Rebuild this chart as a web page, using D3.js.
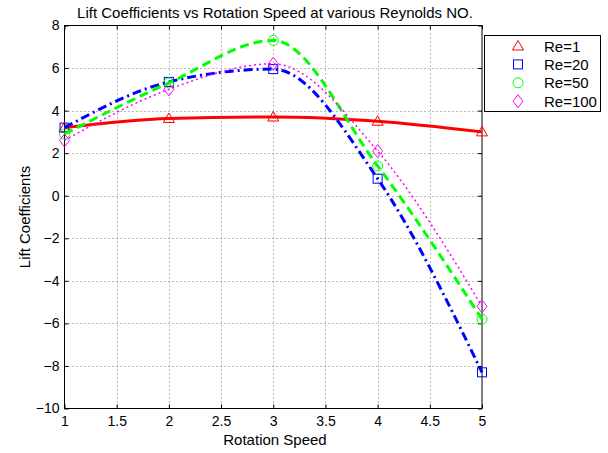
<!DOCTYPE html>
<html>
<head>
<meta charset="utf-8">
<script src="https://cdn.jsdelivr.net/npm/d3@7"></script>
<style>
  body { margin: 0; background: #fff; }
  svg { font-family: "Liberation Sans", Arial, sans-serif; }
</style>
</head>
<body>
<svg width="608" height="453"></svg>
<script>
"use strict";

// rotation speeds (x)
const speeds = [1, 2, 3, 4, 5];
// lift coefficients per Reynolds number
const re1   = [3.2, 3.63, 3.7, 3.5, 3.0];
const re20  = [3.2, 5.35, 5.95, 0.8, -8.3];
const re50  = [2.9, 5.3, 7.3, 1.4, -5.8];
const re100 = [2.6, 5.0, 6.2, 2.1, -5.2];
const seriesNames = ["Re=1", "Re=20", "Re=50", "Re=100"];
const xTicks = [1, 1.5, 2, 2.5, 3, 3.5, 4, 4.5, 5];
const yTicks = [-10, -8, -6, -4, -2, 0, 2, 4, 6, 8];

const series = [
    { name: seriesNames[0], values: re1,   color: "#ff0000", marker: "triangle", dash: null,      width: 3 },
    { name: seriesNames[1], values: re20,  color: "#0000ff", marker: "square",   dash: "9,4,2,4", width: 3 },
    { name: seriesNames[2], values: re50,  color: "#00ff00", marker: "circle",   dash: "9,5",     width: 3 },
    { name: seriesNames[3], values: re100, color: "#ff00ff", marker: "diamond",  dash: "2,3",     width: 1.5 }
];

const chart = d3.select("svg");
const plot = { left: 64.5, right: 482, top: 25.5, bottom: 408.5 },
      tickLen = 4;

let scaleX = d3.scaleLinear().domain([1, 5]).range([plot.left, plot.right]);
let scaleY = d3.scaleLinear().domain([-10, 8]).range([plot.bottom, plot.top]);

// grid
let grid = chart.append("g").attr("class", "grid")
    .attr("stroke", "#777").attr("stroke-width", 1).attr("stroke-dasharray", "1,3");
grid.selectAll("line.gx")
    .data(xTicks.slice(1, -1))
    .enter().append("line")
    .attr("x1", d => Math.round(scaleX(d)) + 0.5).attr("x2", d => Math.round(scaleX(d)) + 0.5)
    .attr("y1", plot.top).attr("y2", plot.bottom);
grid.selectAll("line.gy")
    .data(yTicks.slice(1, -1))
    .enter().append("line")
    .attr("y1", d => Math.round(scaleY(d)) + 0.5).attr("y2", d => Math.round(scaleY(d)) + 0.5)
    .attr("x1", plot.left).attr("x2", plot.right);

// axes (ticks inside, on all four sides)
function styleAxis(g) {
    g.select(".domain").remove();
    g.selectAll("text").attr("font-size", 14).attr("fill", "#000")
        .attr("font-family", "Liberation Sans, Arial, sans-serif");
    g.selectAll("line").attr("stroke", "#000");
}
const fmt = d => (d < 0 ? "\u2212" + Math.abs(d) : String(d));

chart.append("g")
    .attr("transform", `translate(0, ${plot.bottom})`)
    .call(d3.axisBottom(scaleX).tickValues(xTicks).tickSize(-tickLen).tickPadding(8).tickFormat(fmt))
    .call(styleAxis);
chart.append("g")
    .attr("transform", `translate(0, ${plot.top})`)
    .call(d3.axisTop(scaleX).tickValues(xTicks).tickSize(-tickLen).tickFormat(""))
    .call(styleAxis);
chart.append("g")
    .attr("transform", `translate(${plot.left}, 0)`)
    .call(d3.axisLeft(scaleY).tickValues(yTicks).tickSize(-tickLen).tickPadding(5).tickFormat(fmt))
    .call(styleAxis);
chart.append("g")
    .attr("transform", `translate(${plot.right}, 0)`)
    .call(d3.axisRight(scaleY).tickValues(yTicks).tickSize(-tickLen).tickFormat(""))
    .call(styleAxis);

// plot box
chart.append("rect")
    .attr("x", plot.left).attr("y", plot.top)
    .attr("width", plot.right - plot.left).attr("height", plot.bottom - plot.top)
    .attr("fill", "none").attr("stroke", "#000").attr("stroke-width", 1);

// markers
function drawMarker(g, type, color) {
    if (type == "triangle") {
        g.append("path").attr("d", "M0,-5.5L5.5,4L-5.5,4Z");
    } else if (type == "square") {
        g.append("rect").attr("x", -4.5).attr("y", -4.5).attr("width", 9).attr("height", 9);
    } else if (type == "circle") {
        g.append("circle").attr("r", 5);
    } else {
        g.append("path").attr("d", "M0,-6.5L5,0L0,6.5L-5,0Z");
    }
    g.selectAll("*").attr("fill", "none").attr("stroke", color).attr("stroke-width", 1);
}

series.forEach(s => {
    chart.append("g").attr("class", "markers")
        .selectAll("g")
        .data(s.values)
        .enter().append("g")
        .attr("transform", (d, i) => `translate(${scaleX(speeds[i])}, ${scaleY(d)})`)
        .each(function() { drawMarker(d3.select(this), s.marker, s.color); });
});

// smooth (shape preserving) curves through the points
let line = d3.line()
    .x((d, i) => scaleX(speeds[i]))
    .y(d => scaleY(d))
    .curve(d3.curveMonotoneX);

series.forEach(s => {
    chart.append("path")
        .attr("d", line(s.values))
        .attr("fill", "none")
        .attr("stroke", s.color)
        .attr("stroke-width", s.width)
        .attr("stroke-dasharray", s.dash);
});

// legend
let legend = chart.append("g").attr("class", "legend").attr("transform", "translate(484, 35)");
legend.append("rect")
    .attr("x", 0.5).attr("y", 0.5).attr("width", 116).attr("height", 76)
    .attr("fill", "#fff").attr("stroke", "#000").attr("stroke-width", 1);
legend.selectAll("g.item")
    .data(series)
    .enter().append("g")
    .attr("class", "item")
    .attr("transform", (d, i) => `translate(0, ${11 + i * 18.4})`)
    .each(function(d) {
        let g = d3.select(this);
        drawMarker(g.append("g").attr("transform", "translate(34, 0)"), d.marker, d.color);
        g.append("text").text(d.name)
            .attr("x", 60).attr("y", 5.5)
            .attr("font-size", 15).attr("fill", "#000");
    });

// title and labels
chart.append("text")
    .text("Lift Coefficients vs Rotation Speed at various Reynolds NO.")
    .attr("x", 275).attr("y", 18)
    .attr("text-anchor", "middle").attr("font-size", 15);
chart.append("text")
    .text("Rotation Speed")
    .attr("x", 275).attr("y", 445)
    .attr("text-anchor", "middle").attr("font-size", 15);
chart.append("text")
    .text("Lift Coefficients")
    .attr("transform", `translate(30, ${(plot.top + plot.bottom) / 2}) rotate(-90)`)
    .attr("text-anchor", "middle").attr("font-size", 15);
</script>
</body>
</html>
